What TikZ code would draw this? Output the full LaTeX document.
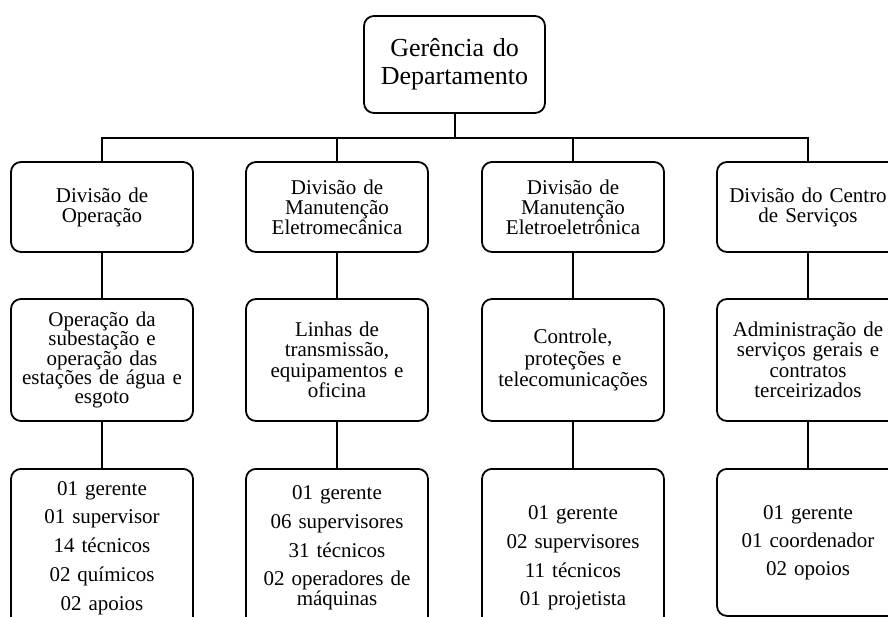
\documentclass[tikz,border=0pt]{standalone}
\usepackage{fontspec}
\setmainfont{Liberation Serif}
\begin{document}
\begin{tikzpicture}[x=1pt,y=-1pt,
  box/.style={draw=black,line width=1.8pt,rounded corners=10pt,minimum width=182pt,inner sep=0pt,text width=180pt,align=center},
  topbox/.style={box,minimum width=181pt,minimum height=97pt,font=\fontsize{26}{28}\selectfont},
  divbox/.style={box,minimum height=90pt,font=\fontsize{21}{20}\selectfont},
  areabox/.style={box,minimum height=122pt,font=\fontsize{21}{#1}\selectfont},
  areabox/.default=20.5,
  staffbox/.style={box,minimum height=#1,font=\fontsize{21}{20}\selectfont},
  staffbox/.default=146pt,
  thinlink/.style={line width=1.3pt},
  thicklink/.style={line width=2pt}]
\useasboundingbox (0,0) rectangle (888,616);
\clip (0,0) rectangle (888,616);
\fill[white] (0,0) rectangle (888,616);

\node[topbox] (t) at (454.5,64.5) {Gerência do\\Departamento};

\node[divbox] (d1) at (102,207) {Divisão de\\Operação};
\node[divbox] (d2) at (337,207) {Divisão de\\Manutenção\\Eletromecânica};
\node[divbox] (d3) at (573,207) {Divisão de\\Manutenção\\Eletroeletrônica};
\node[divbox] (d4) at (808,207) {Divisão do Centro\\de Serviços};

\node[areabox=19.2] (a1) at (102,360) {Operação da\\subestação e\\operação das\\estações de água e\\esgoto};
\node[areabox=20.5] (a2) at (337,360) {Linhas de\\transmissão,\\equipamentos e\\oficina};
\node[areabox=21.5] (a3) at (573,360) {Controle,\\proteções e\\telecomunicações};
\node[areabox=20.5] (a4) at (808,360) {Administração de\\serviços gerais e\\contratos\\terceirizados};

\node[staffbox=158pt,anchor=north] (s1) at (102,468) {01 gerente\\[8.7pt]01 supervisor\\[8.7pt]14 técnicos\\[8.7pt]02 químicos\\[8.7pt]02 apoios};
\node[staffbox=158pt,anchor=north] (s2) at (337,468) {01 gerente\\[8.7pt]06 supervisores\\[8.7pt]31 técnicos\\[8.7pt]02 operadores de\\máquinas};
\node[staffbox=178pt,anchor=north] (s3) at (573,468) {01 gerente\\[8.7pt]02 supervisores\\[8.7pt]11 técnicos\\[8.7pt]01 projetista};
\node[staffbox=147pt,anchor=north] (s4) at (808,468) {01 gerente\\[8pt]01 coordenador\\[8pt]02 opoios};

\coordinate (hl) at (454.5,138);
\draw[thicklink] (t.south) -- (hl);
\draw[thinlink] (d1.north) |- (hl) -| (d4.north);
\draw[thinlink] (d2.north) -- (d2.north |- hl);
\draw[thinlink] (d3.north) -- (d3.north |- hl);

\foreach \i in {1,2,3,4}{
  \draw[thicklink] (d\i.south) -- (a\i.north);
  \draw[thicklink] (a\i.south) -- (s\i.north);
}
\end{tikzpicture}
\end{document}
